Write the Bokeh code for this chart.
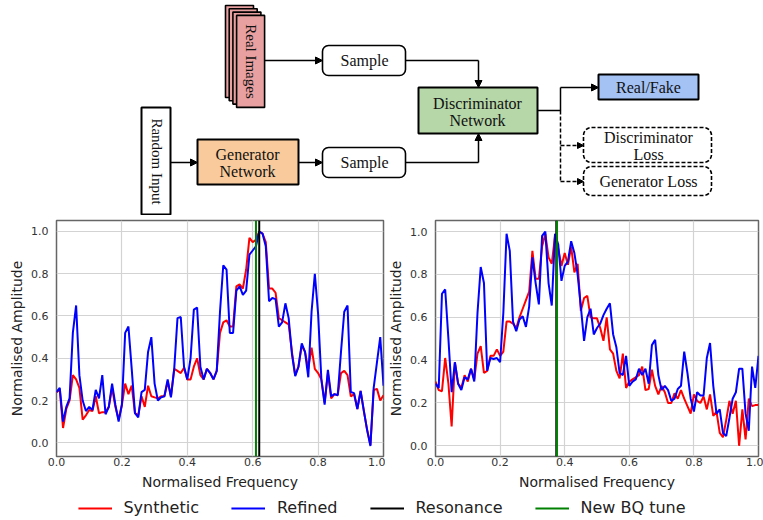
from math import pi
from bokeh.plotting import figure
from bokeh.layouts import column, row
from bokeh.models import (Range1d, Span, Arrow, NormalHead, Legend, LegendItem,
                          FixedTicker, PrintfTickFormatter)
from bokeh.embed import file_html
from bokeh.resources import INLINE
from bokeh.core.properties import value

# ---------------- data ----------------
freq = [0.00, 0.01, 0.02, 0.03, 0.04, 0.05, 0.06, 0.07, 0.08, 0.09,
        0.10, 0.11, 0.12, 0.13, 0.14, 0.15, 0.16, 0.17, 0.18, 0.19,
        0.20, 0.21, 0.22, 0.23, 0.24, 0.25, 0.26, 0.27, 0.28, 0.29,
        0.30, 0.31, 0.32, 0.33, 0.34, 0.35, 0.36, 0.37, 0.38, 0.39,
        0.40, 0.41, 0.42, 0.43, 0.44, 0.45, 0.46, 0.47, 0.48, 0.49,
        0.50, 0.51, 0.52, 0.53, 0.54, 0.55, 0.56, 0.57, 0.58, 0.59,
        0.60, 0.61, 0.62, 0.63, 0.64, 0.65, 0.66, 0.67, 0.68, 0.69,
        0.70, 0.71, 0.72, 0.73, 0.74, 0.75, 0.76, 0.77, 0.78, 0.79,
        0.80, 0.81, 0.82, 0.83, 0.84, 0.85, 0.86, 0.87, 0.88, 0.89,
        0.90, 0.91, 0.92, 0.93, 0.94, 0.95, 0.96, 0.97, 0.98, 0.99,
        1.00]

left_refined = [0.24, 0.26, 0.10, 0.17, 0.21, 0.52, 0.65, 0.32, 0.20, 0.15,
                0.17, 0.155, 0.25, 0.21, 0.32, 0.135, 0.17, 0.28, 0.18, 0.10,
                0.18, 0.52, 0.55, 0.35, 0.14, 0.12, 0.24, 0.25, 0.43, 0.50,
                0.28, 0.20, 0.215, 0.22, 0.30, 0.215, 0.35, 0.59, 0.595, 0.36,
                0.30, 0.40, 0.63, 0.64, 0.36, 0.30, 0.35, 0.33, 0.30, 0.34,
                0.62, 0.84, 0.82, 0.52, 0.52, 0.72, 0.74, 0.70, 0.72, 0.89,
                0.91, 0.93, 1.00, 0.99, 0.93, 0.67, 0.685, 0.68, 0.55, 0.57,
                0.66, 0.59, 0.42, 0.315, 0.36, 0.47, 0.43, 0.31, 0.62, 0.80,
                0.61, 0.30, 0.18, 0.345, 0.22, 0.23, 0.225, 0.43, 0.62, 0.65,
                0.24, 0.235, 0.16, 0.245, 0.15, 0.06, -0.015, 0.26, 0.38, 0.50,
                0.27]
left_synthetic = [0.24, 0.25, 0.07, 0.16, 0.20, 0.32, 0.30, 0.26, 0.11, 0.13,
                  0.155, 0.15, 0.22, 0.14, 0.145, 0.145, 0.17, 0.26, 0.17, 0.11,
                  0.18, 0.28, 0.23, 0.27, 0.14, 0.13, 0.22, 0.17, 0.27, 0.22,
                  0.215, 0.21, 0.22, 0.22, 0.29, 0.22, 0.35, 0.34, 0.33, 0.355,
                  0.30, 0.30, 0.36, 0.40, 0.32, 0.30, 0.35, 0.33, 0.30, 0.34,
                  0.52, 0.57, 0.58, 0.55, 0.55, 0.74, 0.75, 0.73, 0.82, 0.97,
                  0.95, 0.96, 1.00, 0.99, 0.95, 0.73, 0.73, 0.71, 0.59, 0.58,
                  0.57, 0.56, 0.43, 0.32, 0.36, 0.46, 0.43, 0.35, 0.45, 0.35,
                  0.33, 0.30, 0.19, 0.33, 0.21, 0.23, 0.225, 0.33, 0.34, 0.32,
                  0.22, 0.23, 0.16, 0.245, 0.15, 0.06, -0.01, 0.25, 0.255, 0.20,
                  0.225]
left_resonance = 0.62
left_bq_tune = 0.61

right_refined = [0.29, 0.27, 0.71, 0.73, 0.50, 0.25, 0.39, 0.29, 0.26, 0.32,
                 0.31, 0.36, 0.30, 0.62, 0.835, 0.76, 0.35, 0.41, 0.405, 0.41,
                 0.39, 0.62, 0.99, 0.91, 0.58, 0.535, 0.59, 0.605, 0.555, 0.65,
                 0.88, 0.76, 0.66, 0.98, 1.00, 0.76, 0.655, 0.99, 0.94, 0.77,
                 0.84, 0.86, 0.955, 0.90, 0.80, 0.65, 0.49, 0.60, 0.64, 0.52,
                 0.55, 0.57, 0.61, 0.64, 0.665, 0.52, 0.46, 0.34, 0.33, 0.42,
                 0.28, 0.30, 0.31, 0.36, 0.33, 0.36, 0.29, 0.47, 0.495, 0.33,
                 0.26, 0.28, 0.26, 0.21, 0.22, 0.265, 0.28, 0.44, 0.34, 0.22,
                 0.16, 0.25, 0.235, 0.235, 0.41, 0.48, 0.28, 0.15, 0.17, 0.06,
                 0.045, 0.13, 0.22, 0.25, 0.36, 0.36, 0.15, 0.07, 0.37, 0.27,
                 0.42]
right_synthetic = [0.30, 0.26, 0.255, 0.41, 0.29, 0.09, 0.39, 0.29, 0.27, 0.33,
                   0.30, 0.36, 0.31, 0.43, 0.465, 0.34, 0.35, 0.42, 0.42, 0.45,
                   0.42, 0.44, 0.58, 0.58, 0.57, 0.55, 0.60, 0.64, 0.68, 0.72,
                   0.91, 0.78, 0.78, 0.93, 0.99, 0.88, 0.85, 0.98, 0.92, 0.84,
                   0.90, 0.845, 0.93, 0.81, 0.85, 0.63, 0.69, 0.70, 0.60, 0.595,
                   0.595, 0.55, 0.49, 0.60, 0.45, 0.43, 0.35, 0.315, 0.43, 0.27,
                   0.30, 0.31, 0.32, 0.33, 0.37, 0.26, 0.265, 0.355, 0.28, 0.24,
                   0.28, 0.25, 0.20, 0.20, 0.245, 0.22, 0.26, 0.22, 0.185, 0.15,
                   0.24, 0.21, 0.20, 0.23, 0.17, 0.24, 0.14, 0.16, 0.06, 0.04,
                   0.12, 0.21, 0.15, 0.21, 0.00, 0.17, 0.03, 0.22, 0.185, 0.19,
                   0.19]
right_resonance = 0.374
right_bq_tune = 0.376

tick_values = [0.0, 0.2, 0.4, 0.6, 0.8, 1.0]
legend_labels = ["Synthetic", "Refined", "Resonance", "New BQ tune"]

# ---------------- styles ----------------
SERIF = "Liberation Serif"
SANS = "DejaVu Sans"
RED, BLUE, BLACK, GREEN = "#ff0000", "#0000ff", "#000000", "#008000"

# ---------------- diagram ----------------
d = figure(width=763, height=215, x_range=Range1d(0, 763), y_range=Range1d(215, 0),
           x_axis_type=None, y_axis_type=None, output_backend="svg",
           toolbar_location=None, min_border=0)
d.outline_line_color = None
d.grid.visible = False

# stacked "Real Images"
for k in range(4):
    l = 225 + k * 3.7
    t = 5 + k * 3.3
    d.quad(left=[l], right=[l + 28], top=[t], bottom=[t + 92],
           fill_color="#e8a0a0", line_color="black", line_width=1.6)

boxes = [
    # left, right, top, bottom, fill, dashed, radius
    (322, 405, 45, 75, "white", False, 6),      # Sample 1
    (322, 405, 147, 177, "white", False, 6),    # Sample 2
    (141, 170, 107, 214, "white", False, 0),    # Random input
    (197, 298, 139, 184, "#f9cb9c", False, 0),  # Generator
    (418, 537, 87, 133, "#b6d7a8", False, 0),   # Discriminator
    (598, 698, 74, 99, "#a4c2f4", False, 0),    # Real/Fake
    (583, 711, 127, 162, "white", True, 8),     # Disc loss
    (583, 711, 166, 195, "white", True, 8),     # Gen loss
]
for (l, r, t, b, fc, dashed, rad) in boxes:
    d.quad(left=[l], right=[r], top=[t], bottom=[b], fill_color=fc,
           line_color="black", line_width=2 if rad == 0 else 1.6,
           line_dash="4 2" if dashed else "solid", border_radius=rad)

def txt(x, y, s, angle=0.0, size="16px"):
    d.text(x=[x], y=[y], text=[s], angle=angle, text_font=value(SERIF),
           text_font_size=size, text_align="center", text_baseline="middle",
           text_color="#111111")

txt(250, 61, "Real Images", angle=-pi / 2, size="15px")
txt(156, 161, "Random Input", angle=-pi / 2, size="15px")
txt(364, 60, "Sample")
txt(364, 162, "Sample")
txt(247, 154, "Generator")
txt(247, 171, "Network")
txt(477, 103, "Discriminator")
txt(477, 120, "Network")
txt(648, 87, "Real/Fake")
txt(648, 137, "Discriminator")
txt(648, 154, "Loss")
txt(648, 181, "Generator Loss")

def seg(xs, ys, dash="solid"):
    d.line(xs, ys, line_color="black", line_width=1.5, line_dash=dash)

def arrow(x0, y0, x1, y1, dash="solid", size=7):
    d.add_layout(Arrow(end=NormalHead(size=size, fill_color="black", line_color="black"),
                       x_start=x0, y_start=y0, x_end=x1, y_end=y1,
                       line_color="black", line_width=1.5, line_dash=dash))

arrow(264, 60, 322, 60)
seg([405, 478], [60, 60])
arrow(478, 60, 478, 87)
arrow(170, 162, 197, 162)
arrow(298, 162, 322, 162)
seg([405, 478], [162, 162])
arrow(478, 162, 478, 133)
seg([537, 560, 560], [110, 110, 87])
arrow(560, 87, 598, 87)
seg([560, 560], [110, 181], dash="4 2")
arrow(560, 145, 583, 145, dash="4 2", size=6)
arrow(560, 181, 583, 181, dash="4 2", size=6)

# ---------------- plots ----------------
def make_plot(syn, ref, res, bq, ylo, width, mbl, mbr):
    p = figure(width=width, height=280, x_range=Range1d(0, 1), y_range=Range1d(ylo, 1.052),
               output_backend="svg", toolbar_location=None,
               min_border_left=mbl, min_border_right=mbr,
               min_border_top=5, min_border_bottom=39)
    p.line(freq, syn, line_color=RED, line_width=2)
    p.line(freq, ref, line_color=BLUE, line_width=2)
    p.add_layout(Span(location=res, dimension="height", line_color=BLACK, line_width=2))
    p.add_layout(Span(location=bq, dimension="height", line_color=GREEN, line_width=2))
    p.outline_line_color = "#666666"
    p.outline_line_width = 1.5
    p.grid.grid_line_color = "#d3d3d3"
    p.grid.grid_line_width = 1.2
    for ax in (p.xaxis[0], p.yaxis[0]):
        ax.ticker = FixedTicker(ticks=tick_values)
        ax.formatter = PrintfTickFormatter(format="%.1f")
        ax.axis_line_color = None
        ax.major_tick_line_color = None
        ax.major_tick_out = 0
        ax.major_tick_in = 0
        ax.minor_tick_line_color = None
        ax.minor_tick_out = 0
        ax.minor_tick_in = 0
        ax.major_label_text_font = SANS
        ax.major_label_text_font_size = "11px"
        ax.major_label_text_color = "#333333"
        ax.axis_label_text_font = SANS
        ax.axis_label_text_font_size = "14px"
        ax.axis_label_text_font_style = "normal"
        ax.axis_label_text_color = "#222222"
    p.xaxis.axis_label = "Normalised Frequency"
    p.yaxis.axis_label = "Normalised Amplitude"
    p.xaxis.major_label_standoff = 1
    p.xaxis.axis_label_standoff = 5
    p.yaxis.major_label_standoff = 8
    p.yaxis.axis_label_standoff = 3
    return p

left = make_plot(left_synthetic, left_refined, left_resonance, left_bq_tune,
                 -0.065, 385, 56, 2)
right = make_plot(right_synthetic, right_refined, right_resonance, right_bq_tune,
                  -0.05, 378, 47, 5)

# ---------------- legend ----------------
lg = figure(width=763, height=25, x_range=Range1d(0, 1), y_range=Range1d(0, 1),
            x_axis_type=None, y_axis_type=None, output_backend="svg",
            toolbar_location=None, min_border=0)
lg.outline_line_color = None
lg.grid.visible = False
rs = []
for c in (RED, BLUE, BLACK, GREEN):
    rs.append(lg.line(x=[-5, -4], y=[-5, -4], line_color=c, line_width=2))
legend = Legend(items=[LegendItem(label=lab, renderers=[r]) for lab, r in zip(legend_labels, rs)],
                orientation="horizontal", location="center", border_line_color=None,
                background_fill_alpha=0, label_text_font=SANS, label_text_font_size="16px",
                label_text_color="#222222", glyph_width=34, label_standoff=12, spacing=32,
                padding=0, margin=0)
lg.add_layout(legend, "center")

layout = column(d, row(left, right), lg)
open("out.html", "w").write(file_html(layout, INLINE))
